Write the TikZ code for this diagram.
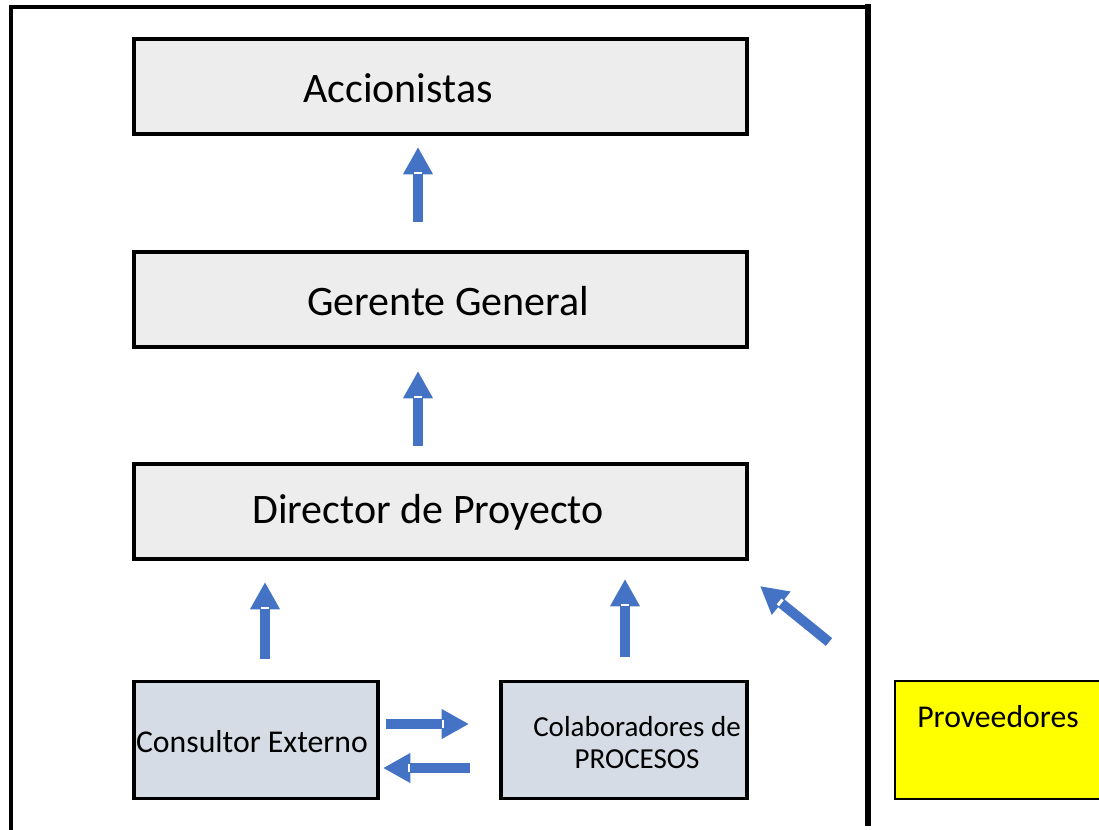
\documentclass[tikz,border=0pt]{standalone}
\usepackage{fontspec}
\setmainfont{Carlito}
\usetikzlibrary{arrows.meta,calc}
\definecolor{boxgray}{HTML}{EDEDED}
\definecolor{boxblue}{HTML}{D6DCE5}
\definecolor{arrowblue}{HTML}{4472C4}
\definecolor{provyellow}{HTML}{FFFF00}
\tikzset{
  topbox/.style={draw=black, line width=2.7pt, fill=boxgray, rectangle, inner sep=0pt,
    minimum width=613*0.75pt, minimum height=95*0.75pt},
  lowbox/.style={draw=black, line width=2.7pt, fill=boxblue, rectangle, inner sep=0pt,
    minimum height=117*0.75pt},
  provbox/.style={draw=black, line width=2pt, fill=provyellow, rectangle, inner sep=0pt,
    minimum width=215*0.75pt, minimum height=118*0.75pt},
  bigtext/.style={anchor=base, inner sep=0pt, font=\fontsize{31.5pt}{37pt}\selectfont},
  midtext/.style={anchor=base, inner sep=0pt, font=\fontsize{23.8pt}{28pt}\selectfont},
  smalltext/.style={anchor=base, inner sep=0pt, align=center, font=\fontsize{21.75pt}{24pt}\selectfont},
  blockarrow/.style={draw=arrowblue, line width=7.5pt,
    -{Triangle[width=21pt,length=20.5pt]}},
  framewall/.style={draw=black, line cap=rect},
}
\newcommand\myarrow[2]{%
  \draw[blockarrow] (#1) -- (#2);
  \draw[white, line width=2.2pt] ($($(#2)!19.5pt!(#1)$)!2.8pt!90:(#2)$) -- ($($(#2)!19.5pt!(#1)$)!2.8pt!-90:(#2)$);
}
\begin{document}
\begin{tikzpicture}[x=0.75pt, y=-0.75pt]
\clip (0,0) rectangle (1099,829);
\fill[white] (0,0) rectangle (1099,829);
% frame
\draw[framewall, line width=3pt] (11,829) -- (11,7) -- (868,7);
\draw[framewall, line width=4.2pt] (868,7) -- (868,823);
% boxes
\node[topbox] (acc) at (440.5,86.5) {};
\node[topbox] (ger) at (440.5,299.5) {};
\node[topbox] (dir) at (440.5,511.5) {};
\node[lowbox, minimum width=244*0.75pt] (con) at (256,740) {};
\node[lowbox, minimum width=246*0.75pt] (col) at (624,740) {};
\node[provbox] (pro) at (1002.5,740) {};
% texts
\node[bigtext] (tacc) at (398,102) {Accionistas};
\node[bigtext] (tger) at (448,315) {Gerente General};
\node[bigtext] (tdir) at (428,523) {Director de Proyecto};
\node[midtext] (tcon) at (252,752) {Consultor Externo};
\node[smalltext] (tcol) at (637,768) {Colaboradores de\\PROCESOS};
\node[midtext] (tpro) at (998,727) {Proveedores};
% arrow coordinates
\coordinate (a1s) at (418,222); \coordinate (a1e) at (418,147);
\coordinate (a2s) at (418,446); \coordinate (a2e) at (418,371);
\coordinate (a3s) at (265,659); \coordinate (a3e) at (265,582);
\coordinate (a4s) at (625,657); \coordinate (a4e) at (625,579);
\coordinate (a5s) at (829,642); \coordinate (a5e) at (760,586);
\coordinate (a6s) at (386,724); \coordinate (a6e) at (469,724);
\coordinate (a7s) at (470,768); \coordinate (a7e) at (383,768);
\myarrow{a1s}{a1e}
\myarrow{a2s}{a2e}
\myarrow{a3s}{a3e}
\myarrow{a4s}{a4e}
\myarrow{a5s}{a5e}
\myarrow{a6s}{a6e}
\myarrow{a7s}{a7e}
\end{tikzpicture}
\end{document}
